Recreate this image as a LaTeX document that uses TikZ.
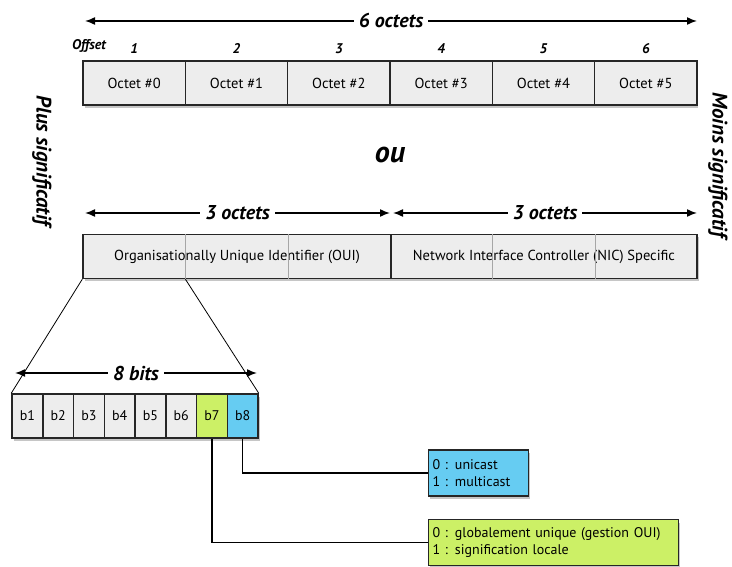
\documentclass[tikz,border=0pt]{standalone}
\usepackage{fontspec}
\setmainfont{PT Sans}
\usetikzlibrary{arrows.meta,shadows,calc}
\definecolor{cellgray}{HTML}{EDEDED}
\definecolor{bitgreen}{HTML}{CCF066}
\definecolor{bitblue}{HTML}{66CCF2}
\tikzset{
  boxshadow/.style={drop shadow={shadow xshift=1.5pt, shadow yshift=-3pt, opacity=0.45}},
  cell/.style={draw=black!85, line width=1.5pt, fill=cellgray, minimum height=44pt,
    inner sep=0pt, font=\fontsize{14.5}{17}\selectfont, boxshadow},
  bit/.style={cell, minimum width=30.75pt, font=\fontsize{14}{17}\selectfont},
  callout/.style={draw=black!85, line width=1.2pt, align=left, inner sep=4pt,
    minimum height=46pt, anchor=west, font=\fontsize{14}{16.5}\selectfont, boxshadow},
  span/.style={line width=1.5pt, {Latex[length=10pt,width=8pt]}-{Latex[length=10pt,width=8pt]}},
  spanlab/.style={fill=white, inner xsep=5pt, inner ysep=1pt, font=\fontsize{20}{24}\selectfont\bfseries\itshape},
  offsetlab/.style={font=\fontsize{14}{16}\selectfont\bfseries\itshape, label distance=3pt},
  sidelab/.style={font=\fontsize{21}{25}\selectfont\bfseries\itshape, rotate=-90, inner sep=1pt},
  divider/.style={draw=gray!70, line width=0.6pt},
  fan/.style={line width=0.8pt},
  wire/.style={line width=1.3pt}
}
\begin{document}
\begin{tikzpicture}[x=1pt,y=-1pt]
\useasboundingbox (0,0) rectangle (732,567);

% 6 octets
\coordinate (w6l) at (85,21);
\coordinate (w6r) at (697,21);
\draw[span] (w6l) -- node[spanlab] {6 octets} (w6r);
\node[offsetlab] (offset) at (89,46) {Offset};
\foreach \i [evaluate=\i as \n using int(\i+1)] in {0,...,5}
  \node[cell, minimum width=102.33pt, label={[offsetlab]above:\n}] (o\i)
    at ({83+102.33*(\i+0.5)},83) {Octet \#\i};

% sides
\node[sidelab] (msb) at (42,161) {Plus significatif};
\node[sidelab] (lsb) at (718,165) {Moins significatif};
\node[font=\fontsize{30}{34}\selectfont\bfseries\itshape] (ou) at (390,155) {ou};

% 3 + 3 octets
\coordinate (w3l) at (85,213);
\coordinate (w3m) at (390,213);
\coordinate (w3n) at (393,213);
\coordinate (w3r) at (697,213);
\draw[span] (w3l) -- node[spanlab] {3 octets} (w3m);
\draw[span] (w3n) -- node[spanlab] {3 octets} (w3r);
\node[cell, minimum width=308pt] (oui) at (237,256.5) {Organisationally Unique Identifier (OUI)};
\node[cell, minimum width=306pt] (nic) at (544,256.5) {Network Interface Controller (NIC) Specific};
\foreach \part in {oui,nic}
  \foreach \f in {1/3,2/3}
    \draw[divider] ($(\part.north west)!\f!(\part.north east)$) -- ($(\part.south west)!\f!(\part.south east)$);
\coordinate (ouisplit) at ($(oui.south west)!1/3!(oui.south east)$);

% 8 bits
\coordinate (w8l) at (15,373);
\coordinate (w8r) at (257,373);
\draw[span] (w8l) -- node[spanlab] {8 bits} (w8r);
\foreach \i/\c in {1/cellgray,2/cellgray,3/cellgray,4/cellgray,5/cellgray,6/cellgray,7/bitgreen,8/bitblue}
  \node[bit, fill=\c] (b\i) at ({12+30.75*(\i-0.5)},416) {b\i};
\draw[fan] (oui.south west) -- (b1.north west);
\draw[fan] (ouisplit) -- (b8.north east);

% meaning of b7 / b8
\node[callout, fill=bitblue, text width=92pt] (cast) at (428,473) {0 : unicast\\1 : multicast};
\node[callout, fill=bitgreen, text width=242pt] (scope) at (428,542.5) {0 : globalement unique (gestion OUI)\\1 : signification locale};
\draw[wire] (b8.south) |- (cast.west);
\draw[wire] (b7.south) |- (scope.west);
\end{tikzpicture}
\end{document}
